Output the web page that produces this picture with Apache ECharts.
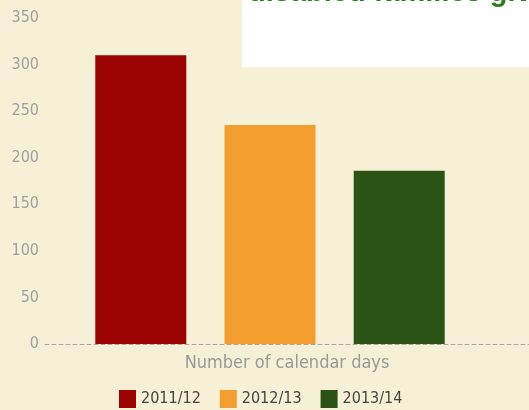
<!DOCTYPE html>
<html>
<head>
<meta charset="utf-8">
<script src="https://cdn.jsdelivr.net/npm/echarts@6/dist/echarts.min.js"></script>
<style>
  html, body { margin: 0; padding: 0; background: #f6f0d6; }
  #chart { width: 529px; height: 410px; }
</style>
</head>
<body>
<div id="chart"></div>
<script>
// Calendar days per year
const categories = ['Number of calendar days'];
const seriesNames = ['2011/12', '2012/13', '2013/14'];
const seriesValues = [[310], [235], [186]];
const seriesColors = ['#9b0303', '#f29d2e', '#2b5316'];
const yTicks = { min: 0, max: 350, interval: 50 };

const narrow = "'Liberation Sans Narrow', 'DejaVu Sans Condensed', 'Liberation Sans', sans-serif";

const chart = echarts.init(document.getElementById('chart'));

const yAxisBase = {
  type: 'value',
  min: yTicks.min,
  max: yTicks.max,
  interval: yTicks.interval,
  splitLine: { show: false },
  axisLine: { show: false },
  axisTick: { show: false }
};

chart.setOption({
  backgroundColor: '#f6f0d6',
  animation: false,
  graphic: [
    {
      type: 'rect',
      shape: { x: 242, y: 0, width: 287, height: 67 },
      style: { fill: '#ffffff' },
      z: 0
    },
    {
      type: 'text',
      x: 248,
      y: 7,
      style: {
        text: 'disabled families given',
        font: "bold 29px 'Liberation Sans', Arial, sans-serif",
        fill: '#2c7a1c',
        verticalAlign: 'bottom'
      },
      z: 1
    }
  ],
  grid: [
    { left: 45, right: 0, top: 18, bottom: 66 },
    { left: 45, right: 34, top: 18, bottom: 66 }
  ],
  legend: {
    data: seriesNames,
    top: 385,
    left: 114,
    itemWidth: 17,
    itemHeight: 18,
    itemGap: 19,
    icon: 'rect',
    textStyle: { color: '#444', fontSize: 16, fontFamily: narrow }
  },
  xAxis: [
    {
      type: 'category',
      gridIndex: 0,
      data: categories,
      axisLine: { lineStyle: { color: '#a8a8a0', type: [4, 3], width: 1 } },
      axisTick: { show: false },
      axisLabel: { color: '#999', fontSize: 18, fontFamily: narrow, margin: 10 }
    },
    {
      type: 'category',
      gridIndex: 1,
      data: categories,
      show: false
    }
  ],
  yAxis: [
    Object.assign({}, yAxisBase, {
      gridIndex: 0,
      axisLabel: { color: '#a0a0a0', fontSize: 16, fontFamily: narrow, margin: 6 }
    }),
    Object.assign({}, yAxisBase, { gridIndex: 1, show: false })
  ],
  series: seriesNames.map((name, i) => ({
    name: name,
    type: 'bar',
    xAxisIndex: 1,
    yAxisIndex: 1,
    data: seriesValues[i],
    barWidth: 91,
    barGap: '42%',
    itemStyle: { color: seriesColors[i] }
  }))
});
</script>
</body>
</html>
